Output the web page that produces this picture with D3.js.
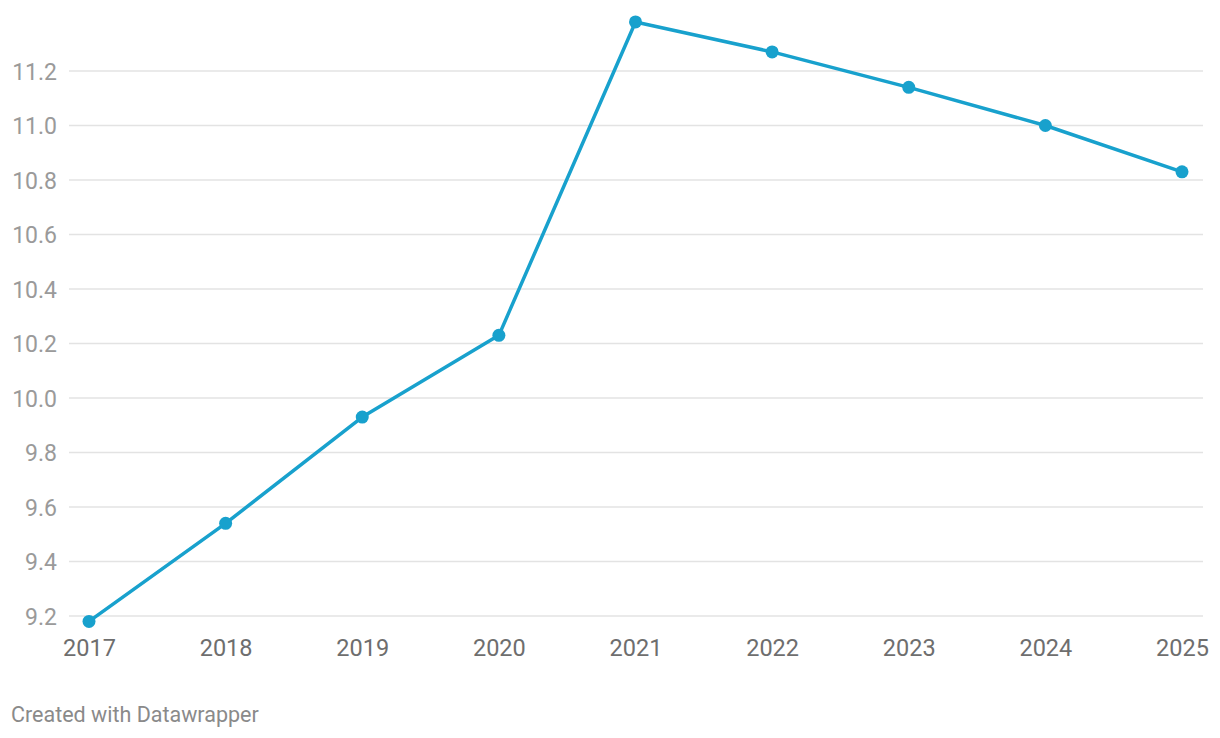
<!DOCTYPE html>
<html><head><meta charset="utf-8">
<script src="https://cdn.jsdelivr.net/npm/d3@7"></script>
<style>body{margin:0;background:#fff;font-family:Roboto,sans-serif;}</style>
</head><body><svg id="c" width="1220" height="738"></svg>
<script>
const years = ["2017","2018","2019","2020","2021","2022","2023","2024","2025"];
const values = [9.18, 9.54, 9.93, 10.23, 11.38, 11.27, 11.14, 11.00, 10.83];
const yTicks = [9.2, 9.4, 9.6, 9.8, 10.0, 10.2, 10.4, 10.6, 10.8, 11.0, 11.2];

const svg = d3.select("#c");
const x = d3.scalePoint().domain(years).range([89, 1182]);
const y = d3.scaleLinear().domain([9.2, 11.2]).range([616, 71]);

const grid = svg.append("g");
grid.selectAll("line").data(yTicks).join("line")
  .attr("x1", 69).attr("x2", 1203)
  .attr("y1", d => y(d)).attr("y2", d => y(d))
  .attr("stroke", "#e3e3e3").attr("stroke-width", 1.5);

const yAxis = d3.axisLeft(y).tickValues(yTicks).tickFormat(d3.format(".1f")).tickSize(0).tickPadding(0);
const ya = svg.append("g").attr("transform", "translate(57,0)").call(yAxis);
ya.select(".domain").remove();
ya.selectAll("text").attr("font-family", "Roboto").attr("font-size", 23).attr("fill", "#9a9a9a").attr("dy", "0.35em");

const xAxis = d3.axisBottom(x).tickSize(0).tickPadding(0);
const xa = svg.append("g").attr("transform", "translate(0,634)").call(xAxis);
xa.select(".domain").remove();
xa.selectAll("text").attr("font-family", "Roboto").attr("font-size", 23.5).attr("fill", "#6e6e6e").attr("dy", "0.95em");

const line = d3.line().x((d, i) => x(years[i])).y(d => y(d));
svg.append("path").datum(values).attr("d", line)
  .attr("fill", "none").attr("stroke", "#18a1cd").attr("stroke-width", 3.5)
  .attr("stroke-linejoin", "round");

svg.append("g").selectAll("circle").data(values).join("circle")
  .attr("cx", (d, i) => x(years[i])).attr("cy", d => y(d)).attr("r", 6.5)
  .attr("fill", "#18a1cd");

svg.append("text").attr("x", 11).attr("y", 722).text("Created with Datawrapper")
  .attr("font-family", "Roboto").attr("font-size", 21.5).attr("fill", "#8a8a8a");
</script></body></html>
